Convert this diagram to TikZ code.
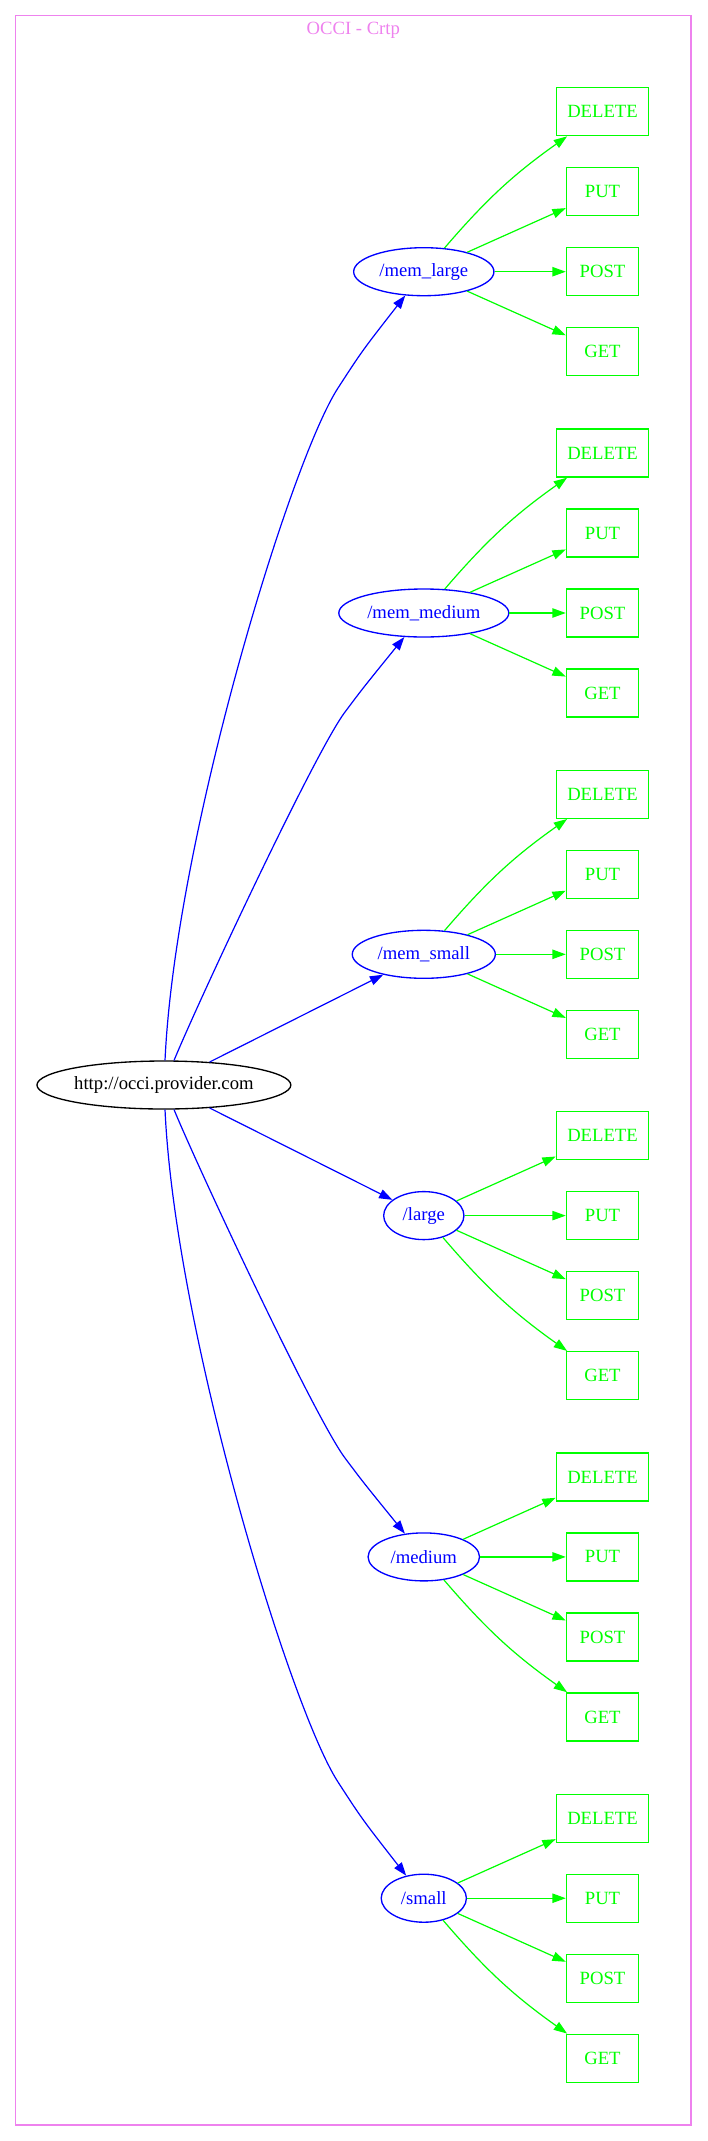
\documentclass[tikz,border=0pt]{standalone}
\usepackage{fontspec}
\setmainfont{Liberation Serif}
\usetikzlibrary{shapes.geometric,arrows.meta}
\definecolor{gvblue}{rgb}{0,0,1}
\definecolor{gvgreen}{rgb}{0,1,0}
\definecolor{gvviolet}{HTML}{EE82EE}
\begin{document}
\begin{tikzpicture}[x=0.75pt,y=-0.75pt,
  every node/.style={font=\fontsize{14}{16}\selectfont},
  res/.style={ellipse,draw=gvblue,text=gvblue,line width=1pt,minimum height=36pt,inner sep=0pt},
  rootnode/.style={ellipse,draw=black,text=black,line width=1pt,minimum height=36pt,minimum width=190.4pt,inner sep=0pt},
  meth/.style={rectangle,draw=gvgreen,text=gvgreen,line width=1pt,minimum height=36pt,minimum width=54.1pt,inner sep=0pt},
  delbox/.style={meth,minimum width=69.2pt},
  bluearrow/.style={draw=gvblue,line width=0.9pt,-{Triangle[length=10pt,width=7pt]}},
  greenarrow/.style={draw=gvgreen,line width=0.9pt,-{Triangle[length=10pt,width=7pt]}}
]
\useasboundingbox (0,0) rectangle (707,2141);
\draw[gvviolet,line width=1pt] (15.7,15.3) rectangle (691,2125);
\node[text=gvviolet] (title) at (353.3,30) {OCCI - Crtp};

\node[rootnode] (root) at (163.9,1085) {http://occi.provider.com};

\foreach \n/\lab/\w/\d/\off in {ml/mem\_large/105.2/111.7/160, mm/mem\_medium/127.5/453.0/160, ms/mem\_small/107.3/794.3/160, lg/large/60.2/1135.6/80, md/medium/83.6/1476.9/80, sm/small/63.9/1818.2/80}{
  \node[res,minimum width=\w pt] (\n) at (423.8,\d+\off) {/\lab};
  \node[delbox] (\n-del) at (602.5,\d) {DELETE};
  \node[meth] (\n-put) at (602.5,\d+80) {PUT};
  \node[meth] (\n-post) at (602.5,\d+160) {POST};
  \node[meth] (\n-get) at (602.5,\d+240) {GET};
}

\foreach \n in {ml,mm,ms}{
  \draw[greenarrow] (\n) to[bend left=7] (\n-del);
  \draw[greenarrow] (\n) -- (\n-put);
  \draw[greenarrow] (\n) -- (\n-post);
  \draw[greenarrow] (\n) -- (\n-get);
}
\foreach \n in {lg,md,sm}{
  \draw[greenarrow] (\n) -- (\n-del);
  \draw[greenarrow] (\n) -- (\n-put);
  \draw[greenarrow] (\n) -- (\n-post);
  \draw[greenarrow] (\n) to[bend right=7] (\n-get);
}

\draw[bluearrow] (root) .. controls (175,840) and (290,462) .. (338,388) .. controls (362,351) .. (ml);
\draw[bluearrow] (root) .. controls (198.5,1001) and (315,752) .. (345,712) .. controls (363,688) .. (mm);
\draw[bluearrow] (root) -- (ms);
\draw[bluearrow] (root) -- (lg);
\draw[bluearrow] (root) .. controls (198.5,1169) and (315,1418) .. (345,1458) .. controls (363,1482) .. (md);
\draw[bluearrow] (root) .. controls (175,1330) and (290,1708) .. (338,1782) .. controls (362,1819) .. (sm);
\end{tikzpicture}
\end{document}
